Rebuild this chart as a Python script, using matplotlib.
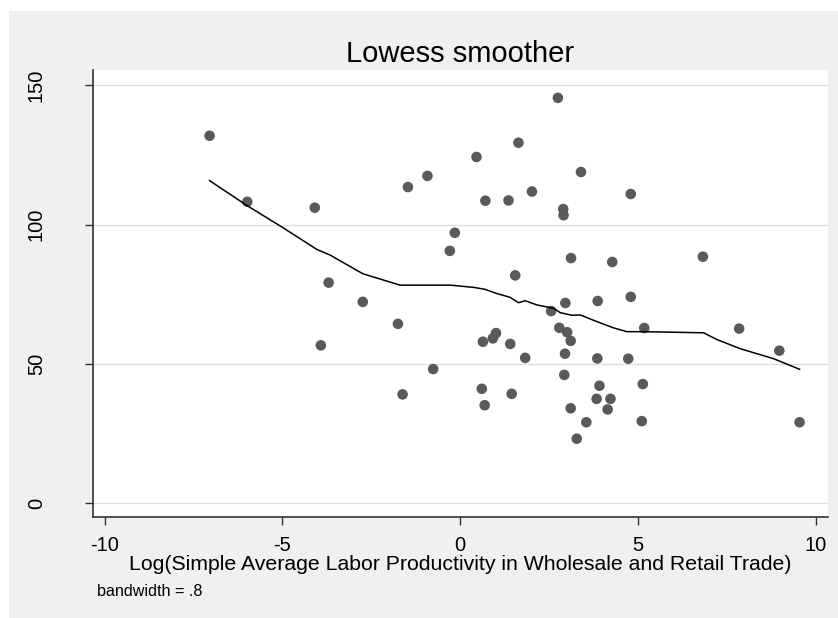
import matplotlib
matplotlib.use("Agg")
import matplotlib.pyplot as plt
from matplotlib.patches import Rectangle

plt.rcParams['font.family'] = ['Liberation Sans', 'DejaVu Sans']

# points (log productivity, y)
x_pts = [-7.05, -5.99, -4.09, -3.70, -2.74, -3.92, -1.75, -0.76, -1.62, -1.47,
         -0.92, -0.15, -0.29, 2.75, 1.64, 0.46, 3.40, 2.02, 0.71, 1.36,
         4.80, 2.90, 2.91, 3.12, 4.28, 6.83, 1.55, 2.96, 3.87, 4.80,
         2.56, 2.79, 3.01, 3.11, 5.18, 7.85, 8.98, 1.01, 0.92, 0.64,
         1.41, 1.83, 2.95, 3.86, 4.73, 2.93, 3.92, 5.14, 0.61, 1.45,
         0.69, 3.84, 4.23, 3.11, 4.15, 3.55, 5.11, 9.55, 3.28]
y_pts = [131.9, 108.2, 106.1, 79.2, 72.3, 56.7, 64.4, 48.2, 39.1, 113.5,
         117.5, 97.1, 90.6, 145.5, 129.4, 124.3, 118.9, 111.9, 108.6, 108.7,
         111.0, 105.6, 103.4, 88.0, 86.6, 88.5, 81.8, 71.9, 72.6, 74.1,
         69.0, 63.0, 61.4, 58.3, 62.9, 62.7, 54.8, 61.1, 59.2, 58.0,
         57.2, 52.2, 53.7, 52.0, 51.9, 46.1, 42.2, 42.8, 41.1, 39.3,
         35.2, 37.5, 37.5, 34.1, 33.7, 29.1, 29.5, 29.1, 23.2]

# lowess curve
x_low = [-7.05, -5.99, -5.02, -4.03, -3.66, -2.74, -1.69, -0.28, 0.38, 0.70,
         1.03, 1.41, 1.64, 1.83, 2.16, 2.63, 2.82, 3.14, 3.38, 3.85,
         4.31, 4.69, 5.18, 6.85, 7.22, 7.88, 8.82, 9.55]
y_low = [115.8, 106.8, 99.2, 91.1, 89.1, 82.4, 78.3, 78.3, 77.5, 76.8,
         75.3, 73.9, 72.0, 72.7, 71.2, 70.0, 68.4, 67.5, 67.6, 65.2,
         63.0, 61.6, 61.6, 61.2, 58.8, 55.5, 51.9, 48.1]

x_ticks = [-10, -5, 0, 5, 10]
y_ticks = [0, 50, 100, 150]

fig = plt.figure(figsize=(8.38, 6.18), dpi=100)
fig.patch.set_facecolor('white')
fig.patches.append(Rectangle((9/838, 0), 1 - 9/838, 1 - 11/618, transform=fig.transFigure,
                             facecolor='#f0f0f0', edgecolor='none', zorder=-10))

ax = fig.add_axes([93/838, 1 - 517/618, (828 - 93)/838, (517 - 70)/618])
ax.set_facecolor('white')

ax.scatter(x_pts, y_pts, s=58, color='#5a5a5a', edgecolors='none', zorder=3)
ax.plot(x_low, y_low, color='black', linewidth=1.1, zorder=4)

ax.set_xlim(-10.33, 10.35)
ax.set_ylim(-4.9, 155.5)
ax.set_xticks(x_ticks)
ax.set_yticks(y_ticks)
ax.set_xticklabels([str(t) for t in x_ticks])
ax.set_yticklabels([str(t) for t in y_ticks], rotation=90, va='center')
ax.yaxis.grid(True, color='#dedede', linewidth=0.9)
ax.set_axisbelow(True)

for s in ['top', 'right']:
    ax.spines[s].set_visible(False)
for s in ['left', 'bottom']:
    ax.spines[s].set_color('#333333')
    ax.spines[s].set_linewidth(1.2)

ax.tick_params(axis='x', length=6, width=1, color='#333333', labelsize=14.5, pad=8)
ax.tick_params(axis='y', length=6, width=1, color='#333333', labelsize=14.5, pad=28)

ax.set_title("Lowess smoother", fontsize=21, pad=6)
ax.set_xlabel("Log(Simple Average Labor Productivity in Wholesale and Retail Trade)",
              fontsize=15.3, labelpad=0)
fig.text(97/838, 1 - 591/618, "bandwidth = .8", fontsize=11.6, va='center', ha='left')

fig.savefig("out.png", dpi=100, facecolor=fig.get_facecolor())
